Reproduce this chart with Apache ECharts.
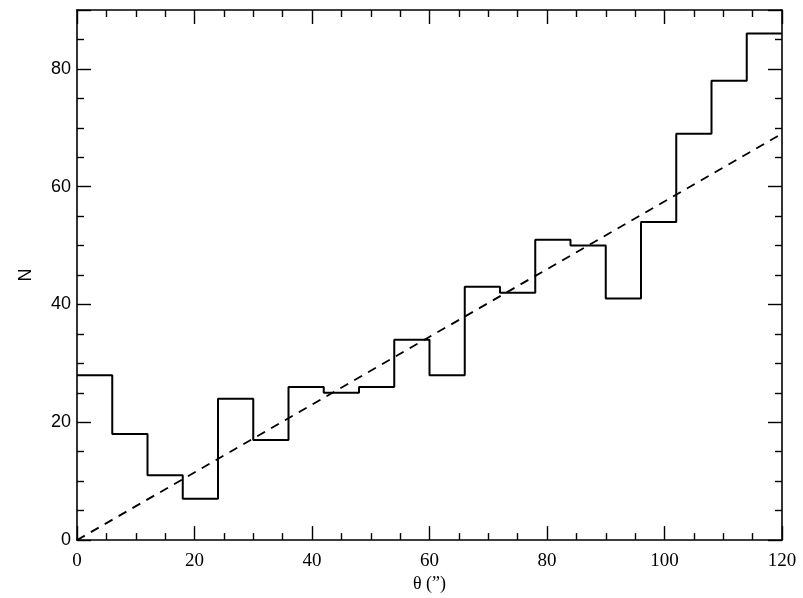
<!DOCTYPE html>
<html>
<head>
<meta charset="utf-8">
<script src="https://cdn.jsdelivr.net/npm/echarts@6/dist/echarts.min.js"></script>
<style>
html,body{margin:0;padding:0;background:#fff;}
#chart{width:803px;height:598px;}
</style>
</head>
<body>
<div id="chart"></div>
<script>
// Histogram bin left edges (theta, arcsec) and counts
var binEdges = [0, 6, 12, 18, 24, 30, 36, 42, 48, 54, 60, 66, 72, 78, 84, 90, 96, 102, 108, 114, 120];
var counts   = [28, 18, 11, 7, 24, 17, 26, 25, 26, 34, 28, 43, 42, 51, 50, 41, 54, 69, 78, 86];
// Dashed reference line
var lineX = [0, 120];
var lineY = [0, 69];
// Axis settings
var xTicks = [0, 20, 40, 60, 80, 100, 120];
var yTicks = [0, 20, 40, 60, 80];

var stepData = [];
for (var i = 0; i < counts.length; i++) stepData.push([binEdges[i], counts[i]]);
stepData.push([binEdges[binEdges.length - 1], counts[counts.length - 1]]);
var lineData = lineX.map(function (x, i) { return [x, lineY[i]]; });

var axisLine = { show: true, onZero: false, lineStyle: { color: '#000', width: 1.6 } };
var tickMajor = { show: true, inside: true, length: 14, lineStyle: { color: '#000', width: 1.4 } };
var tickMinor = { show: true, splitNumber: 4, length: 7, lineStyle: { color: '#000', width: 1.4 } };

var chart = echarts.init(document.getElementById('chart'));
chart.setOption({
  animation: false,
  backgroundColor: '#fff',
  grid: { left: 77, right: 21, top: 10, bottom: 55, containLabel: false },
  xAxis: [
    {
      type: 'value', min: 0, max: 120, interval: 20, position: 'bottom',
      name: '\u03b8 (\u201d)', nameLocation: 'middle', nameGap: 24,
      nameTextStyle: { fontFamily: 'Liberation Serif', fontSize: 18, color: '#000' },
      axisLine: axisLine, axisTick: tickMajor, minorTick: tickMinor,
      axisLabel: { fontFamily: 'Liberation Serif', fontSize: 19, color: '#000', margin: 11,
        formatter: function (v) { return xTicks.indexOf(v) >= 0 ? String(v) : ''; } },
      splitLine: { show: false }, minorSplitLine: { show: false }
    },
    {
      type: 'value', min: 0, max: 120, interval: 20, position: 'top',
      axisLine: axisLine, axisTick: tickMajor, minorTick: tickMinor,
      axisLabel: { show: false }, splitLine: { show: false }
    }
  ],
  yAxis: [
    {
      type: 'value', min: 0, max: 90, interval: 20, position: 'left',
      name: 'N', nameLocation: 'middle', nameGap: 42,
      nameTextStyle: { fontFamily: 'Liberation Sans', fontSize: 18, color: '#000' },
      axisLine: axisLine, axisTick: tickMajor, minorTick: tickMinor,
      axisLabel: { fontFamily: 'Liberation Sans', fontSize: 18, color: '#000', margin: 6,
        formatter: function (v) { return yTicks.indexOf(v) >= 0 ? String(v) : ''; } },
      splitLine: { show: false }, minorSplitLine: { show: false }
    },
    {
      type: 'value', min: 0, max: 90, interval: 20, position: 'right',
      axisLine: axisLine, axisTick: tickMajor, minorTick: tickMinor,
      axisLabel: { show: false }, splitLine: { show: false }
    }
  ],
  series: [
    {
      type: 'line', step: 'end', data: stepData, symbol: 'none',
      xAxisIndex: 0, yAxisIndex: 0,
      lineStyle: { color: '#000', width: 2 }
    },
    {
      type: 'line', data: lineData, symbol: 'none',
      xAxisIndex: 0, yAxisIndex: 0,
      lineStyle: { color: '#000', width: 1.8, type: [9, 7] }
    }
  ]
});
</script>
</body>
</html>
